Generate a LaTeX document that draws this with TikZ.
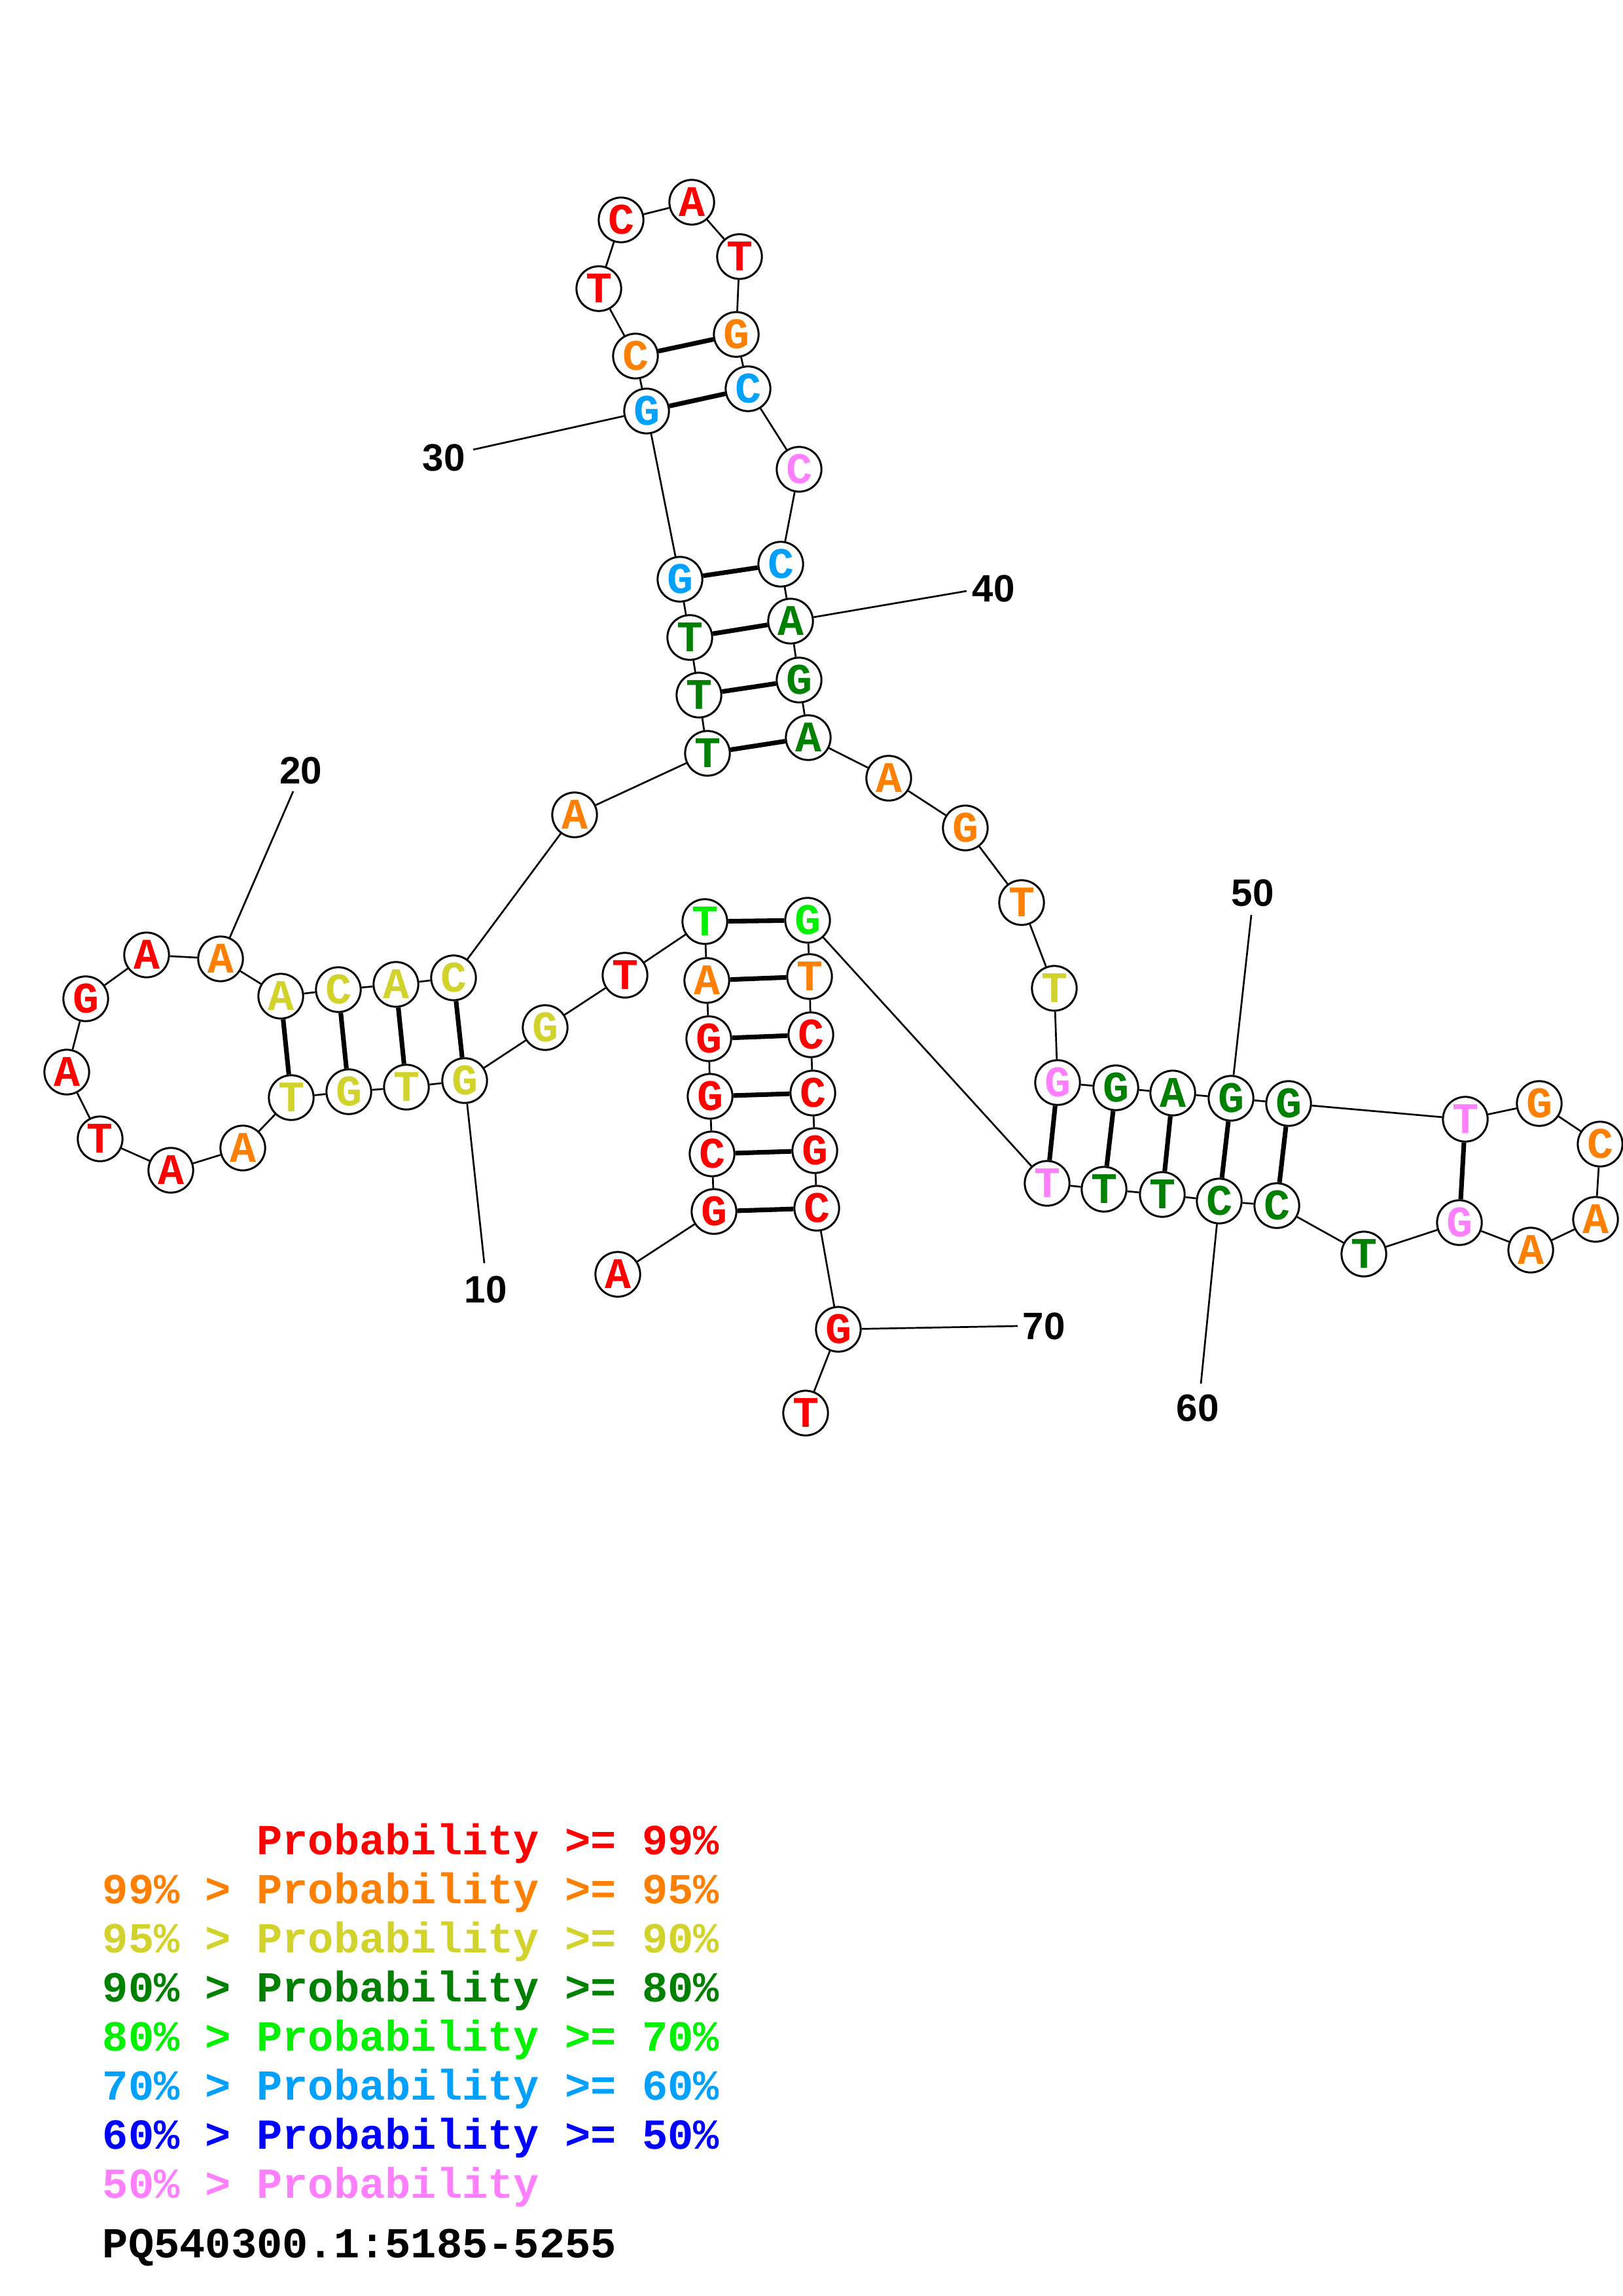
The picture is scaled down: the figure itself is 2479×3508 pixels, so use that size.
\documentclass[tikz,border=0pt]{standalone}
\usepackage{fontspec}
\setmainfont{Liberation Serif}
\setsansfont{Liberation Sans}
\setmonofont{Liberation Mono}
\definecolor{pred}{RGB}{255,0,0}
\definecolor{porange}{RGB}{255,128,0}
\definecolor{pyellow}{RGB}{210,210,45}
\definecolor{pdkgreen}{RGB}{0,128,0}
\definecolor{plime}{RGB}{0,240,0}
\definecolor{psky}{RGB}{0,160,255}
\definecolor{pblue}{RGB}{0,0,255}
\definecolor{ppink}{RGB}{255,128,255}
\tikzset{
  nuc/.style={circle,draw=black,line width=0.72pt,fill=white,inner sep=0pt,minimum size=16.4pt,
    font=\ttfamily\bfseries\fontsize{16}{16}\selectfont},
  bb/.style={line width=0.65pt,draw=black},
  pairline/.style={line width=1.7pt,draw=black},
  numlab/.style={font=\sffamily\bfseries\fontsize{14}{14}\selectfont,inner sep=0pt},
  legend/.style={anchor=base west,inner sep=0pt,font=\ttfamily\bfseries\fontsize{15.7}{15.7}\selectfont}
}
\begin{document}
\begin{tikzpicture}[x=0.24pt,y=-0.24pt]
\useasboundingbox[fill=white] (0,0) rectangle (2479,3508);
% nucleotides
\foreach \i/\b/\x/\y/\c in {
1/A/944/1947/pred, 2/G/1091/1851/pred, 3/C/1088/1763/pred, 4/G/1085/1675/pred,
5/G/1083/1587/pred, 6/A/1080/1498/porange, 7/T/1077/1408/plime, 8/T/955/1490/pred,
9/G/833/1570/pyellow, 10/G/710/1651/pyellow, 11/T/621/1661/pyellow, 12/G/533/1668/pyellow,
13/T/445/1677/pyellow, 14/A/371/1754/porange, 15/A/261/1788/pred, 16/T/153/1740/pred,
17/A/102/1638/pred, 18/G/131/1526/pred, 19/A/224/1459/pred, 20/A/337/1465/porange,
21/A/429/1522/pyellow, 22/C/517/1512/pyellow, 23/A/605/1504/pyellow, 24/C/693/1494/pyellow,
25/A/878/1245/porange, 26/T/1081/1151/pdkgreen, 27/T/1068/1062/pdkgreen, 28/T/1054/974/pdkgreen,
29/G/1039/885/psky, 30/G/988/628/psky, 31/C/971/544/porange, 32/T/915/441/pred,
33/C/949/336/pred, 34/A/1057/309/pred, 35/T/1130/392/pred, 36/G/1125/511/porange,
37/C/1143/594/psky, 38/C/1221/717/ppink, 39/C/1193/862/psky, 40/A/1208/949/pdkgreen,
41/G/1221/1039/pdkgreen, 42/A/1235/1127/pdkgreen, 43/A/1358/1189/porange, 44/G/1475/1265/porange,
45/T/1561/1379/porange, 46/T/1611/1510/pyellow, 47/G/1616/1654/ppink, 48/G/1705/1662/pdkgreen,
49/A/1792/1670/pdkgreen, 50/G/1881/1678/pdkgreen, 51/G/1969/1686/pdkgreen, 52/T/2239/1710/ppink,
53/G/2352/1686/porange, 54/C/2445/1748/porange, 55/A/2438/1863/porange, 56/A/2339/1910/porange,
57/G/2230/1868/ppink, 58/T/2084/1916/pdkgreen, 59/C/1951/1842/pdkgreen, 60/C/1863/1835/pdkgreen,
61/T/1776/1825/pdkgreen, 62/T/1687/1817/pdkgreen, 63/T/1600/1808/ppink, 64/G/1234/1406/plime,
65/T/1237/1492/porange, 66/C/1239/1581/pred, 67/C/1242/1670/pred, 68/G/1245/1758/pred,
69/C/1248/1846/pred, 70/G/1281/2031/pred, 71/T/1231/2159/pred}
  \node[nuc,text=\c] (n\i) at (\x,\y) {\b};
% backbone
\foreach \i [evaluate=\i as \j using int(\i+1)] in {1,...,70}
  \draw[bb] (n\i) -- (n\j);
% base pairs
\foreach \a/\b in {2/69,3/68,4/67,5/66,6/65,7/64,10/24,11/23,12/22,13/21,
  26/42,27/41,28/40,29/39,30/37,31/36,47/63,48/62,49/61,50/60,51/59,52/57}
  \draw[pairline] (n\a) -- (n\b);
% position labels
\coordinate (e10) at (740,1930); \node[numlab] (l10) at (742,1970) {10};
\coordinate (e20) at (448,1209); \node[numlab] (l20) at (460,1177) {20};
\coordinate (e30) at (723,687);  \node[numlab] (l30) at (678,699) {30};
\coordinate (e40) at (1477,903); \node[numlab] (l40) at (1518,899) {40};
\coordinate (e50) at (1912,1398); \node[numlab] (l50) at (1914,1364) {50};
\coordinate (e60) at (1835,2114); \node[numlab] (l60) at (1830,2151) {60};
\coordinate (e70) at (1555,2026); \node[numlab] (l70) at (1595,2026) {70};
\foreach \k in {10,20,30,40,50,60,70}
  \draw[bb] (n\k) -- (e\k);
% legend
\node[legend,text=pred]     (g1) at (156,2833) {\phantom{99\% > }Probability >= 99\%};
\node[legend,text=porange]  (g2) at (156,2908) {99\% > Probability >= 95\%};
\node[legend,text=pyellow]  (g3) at (156,2983) {95\% > Probability >= 90\%};
\node[legend,text=pdkgreen] (g4) at (156,3058) {90\% > Probability >= 80\%};
\node[legend,text=plime]    (g5) at (156,3133) {80\% > Probability >= 70\%};
\node[legend,text=psky]     (g6) at (156,3208) {70\% > Probability >= 60\%};
\node[legend,text=pblue]    (g7) at (156,3283) {60\% > Probability >= 50\%};
\node[legend,text=ppink]    (g8) at (156,3358) {50\% > Probability};
\node[legend,text=black]    (g9) at (156,3449) {PQ540300.1:5185-5255};
\end{tikzpicture}
\end{document}
